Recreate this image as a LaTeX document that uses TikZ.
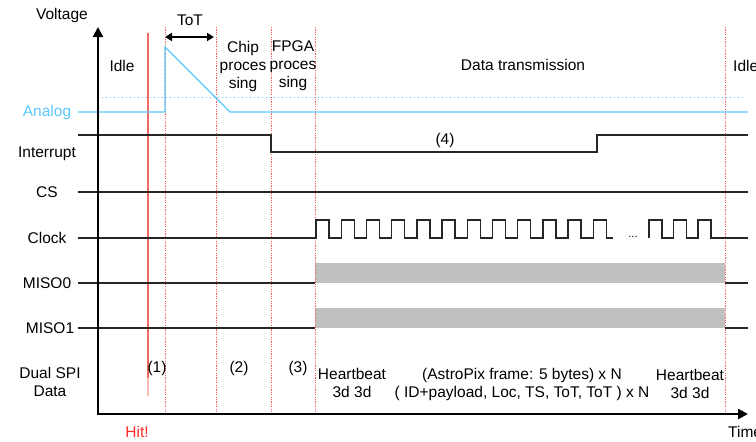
\documentclass[tikz,border=0pt]{standalone}
\usepackage{fontspec}
\setmainfont{Liberation Sans}
\usetikzlibrary{arrows.meta}
\definecolor{analogblue}{HTML}{5AC8FA}
\definecolor{hitred}{HTML}{EE6A60}
\definecolor{dotred}{HTML}{F06060}
\definecolor{bandgray}{HTML}{C0C0C0}
\definecolor{hittext}{HTML}{FF2A2A}
\begin{document}
\begin{tikzpicture}[x=1pt,y=-1pt,
  font=\fontsize{15.5}{18}\selectfont,
  sig/.style={line width=1.4pt, draw=black!85},
  axisline/.style={line width=2.2pt, draw=black},
  phase/.style={draw=dotred, line width=0.9pt, dash pattern=on 1.2pt off 1.2pt},
  band/.style={fill=bandgray, draw=none},
  lbl/.style={inner sep=0pt, align=center},
]
\useasboundingbox (0,0) rectangle (756,442);

% gray data bands
\fill[band] (315,263) rectangle (725,283);
\fill[band] (315,308) rectangle (725,328);

% phase boundaries
\foreach \xx in {165,216,271,315,725} {
  \draw[phase] (\xx,27) -- (\xx,414);
}
% hit line
\draw[hitred, line width=1.2pt] (148,33) -- (148,378);
\draw[hitred!45, line width=1.2pt] (148,378) -- (148,396);

% analog
\draw[analogblue, line width=1pt, dash pattern=on 1pt off 3pt] (98,97) -- (743,97);
\draw[analogblue, line width=1.3pt] (78,112) -- (165,112) -- (165,47) -- (230,112) -- (748,112);

% interrupt
\draw[sig] (78,135) -- (271,135) -- (271,152) -- (597,152) -- (597,135) -- (748,135);
% CS
\draw[sig] (78,192) -- (748,192);
% clock
\draw[sig] (78,238) \foreach \k in {0,...,11} {
   -- ({316+25.2*\k},238) -- ({316+25.2*\k},220) -- ({329+25.2*\k},220) -- ({329+25.2*\k},238)
  } -- (613,238);
\draw[sig] (649,238) \foreach \r in {649,673.5,698} {
   -- (\r,238) -- (\r,220) -- ({\r+13},220) -- ({\r+13},238)
  } -- (748,238);
\node[lbl, font=\fontsize{11}{12}\selectfont] (dots) at (633,237) {...};
% MISO lines
\draw[sig] (78,283) -- (315,283);
\draw[sig] (725,283) -- (748,283);
\draw[sig] (78,328) -- (315,328);
\draw[sig] (725,328) -- (748,328);

% axes
\draw[axisline, {Triangle[length=10pt,width=10pt]}-{Triangle[length=10pt,width=10pt]}] (98,27) -- (98,414) -- (748,414);

% ToT arrow
\draw[line width=2pt, {Triangle[length=7pt,width=8pt]}-{Triangle[length=7pt,width=8pt]}] (165,37) -- (214,37);

% labels
\node[lbl] (voltage) at (62,15) {Voltage};
\node[lbl] (tot) at (190,20) {ToT};
\node[lbl] (idle1) at (122,66) {Idle};
\node[lbl] (chip) at (243,66) {Chip\\proces\\sing};
\node[lbl] (fpga) at (293,66) {FPGA\\proces\\sing};
\node[lbl] (datatx) at (523,65) {Data transmission};
\node[lbl, anchor=west] (idle2) at (733,66) {Idle};

\node[lbl, text=analogblue] (analog) at (47,112) {Analog};
\node[lbl] (interrupt) at (47,154) {Interrupt};
\node[lbl] (cs) at (47,192) {CS};
\node[lbl] (clock) at (47,238) {Clock};
\node[lbl] (miso0) at (47,283) {MISO0};
\node[lbl] (miso1) at (50,328) {MISO1};
\node[lbl] (dualspi) at (50,382) {Dual SPI\\Data};

\node[lbl] (four) at (445,140) {(4)};
\node[lbl] (one) at (157,368) {(1)};
\node[lbl] (two) at (239,368) {(2)};
\node[lbl] (three) at (298,368) {(3)};
\node[lbl] (hb1) at (352,383) {Heartbeat\\3d 3d};
\node[lbl] (frame) at (522,384) {(AstroPix frame: 5 bytes) x N\\( ID+payload, Loc, TS, ToT, ToT ) x N};
\node[lbl] (hb2) at (690,384) {Heartbeat\\3d 3d};
\node[lbl, text=hittext] (hit) at (137,432) {Hit!};
\node[lbl, anchor=west] (time) at (728,432) {Time};
\end{tikzpicture}
\end{document}
